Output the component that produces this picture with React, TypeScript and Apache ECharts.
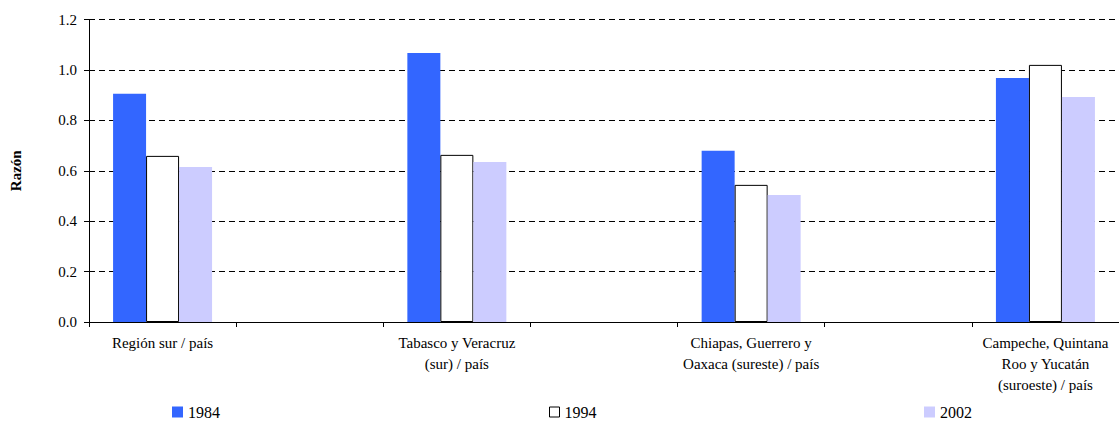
import React, { useEffect, useRef } from "react";
import * as echarts from "echarts";

const categories = [
  "Región sur / país",
  "Tabasco y Veracruz\n(sur) / país",
  "Chiapas, Guerrero y\nOaxaca (sureste) / país",
  "Campeche, Quintana\nRoo y Yucatán\n(suroeste) / país",
];
const seriesNames = ["1984", "1994", "2002"];
const values1984 = [0.905, 1.067, 0.679, 0.968];
const values1994 = [0.659, 0.663, 0.544, 1.02];
const values2002 = [0.615, 0.635, 0.504, 0.893];
const yTicks = [0, 0.2, 0.4, 0.6, 0.8, 1.0, 1.2];

// Categories are spaced with an empty slot between each pair (as in the source chart)
const spread = <T,>(arr: T[], blank: T): T[] => {
  const out: T[] = [];
  arr.forEach((v, i) => {
    out.push(v);
    if (i < arr.length - 1) out.push(blank);
  });
  return out;
};

const FONT = "Liberation Serif";

export default function App() {
  const ref = useRef<HTMLDivElement>(null);
  useEffect(() => {
    if (!ref.current) return;
    const chart = echarts.init(ref.current, undefined, { renderer: "svg" });
    const xCats = spread(categories, "");
    const mk = (name: string, vals: number[], itemStyle: any) => ({
      name,
      type: "bar",
      data: spread<number | null>(vals, null),
      barWidth: 33,
      barGap: "0%",
      itemStyle,
    });
    chart.setOption({
      animation: false,
      backgroundColor: "#fff",
      textStyle: { fontFamily: FONT },
      grid: { left: 89, top: 19.5, width: 1034, height: 302.5 },
      xAxis: {
        type: "category",
        data: xCats,
        boundaryGap: true,
        axisLine: { show: true, lineStyle: { color: "#000", width: 1 } },
        axisTick: { show: true, interval: 0, length: 5, lineStyle: { color: "#000" } },
        axisLabel: {
          interval: 0,
          color: "#000",
          fontSize: 15,
          lineHeight: 21,
          margin: 10,
          fontFamily: FONT,
        },
        splitLine: { show: false },
      },
      yAxis: {
        type: "value",
        min: yTicks[0],
        max: yTicks[yTicks.length - 1],
        interval: 0.2,
        name: "Razón",
        nameLocation: "middle",
        nameGap: 66,
        nameRotate: 90,
        nameTextStyle: { fontFamily: FONT, fontSize: 15, fontWeight: "bold", color: "#000" },
        axisLine: { show: true, lineStyle: { color: "#000", width: 1 } },
        axisTick: { show: true, length: 5, lineStyle: { color: "#000" } },
        axisLabel: {
          color: "#000",
          fontSize: 15,
          margin: 12,
          fontFamily: FONT,
          formatter: (v: number) => v.toFixed(1),
        },
        splitLine: { show: true, lineStyle: { color: "#000", type: [6, 4], width: 1 } },
      },
      legend: seriesNames.map((n, i) => ({
        data: [n],
        left: [172, 549, 924][i],
        top: 404,
        padding: 0,
        icon: "rect",
        itemWidth: i === 1 ? 10 : 11,
        itemHeight: i === 1 ? 10 : 11,
        itemStyle: i === 1 ? { borderWidth: 1, borderColor: "#000" } : {},
        selectedMode: false,
        textStyle: { fontFamily: FONT, fontSize: 16, color: "#000" },
      })),
      series: [
        mk(seriesNames[0], values1984, { color: "#3366FF" }),
        mk(seriesNames[1], values1994, { color: "#FFFFFF", borderColor: "#000", borderWidth: 1 }),
        mk(seriesNames[2], values2002, { color: "#CCCCFF" }),
      ],
    });
    return () => chart.dispose();
  }, []);
  return (
    <div
      ref={ref}
      style={{ position: "absolute", left: 0, top: 0, width: 1119, height: 424 }}
    />
  );
}
